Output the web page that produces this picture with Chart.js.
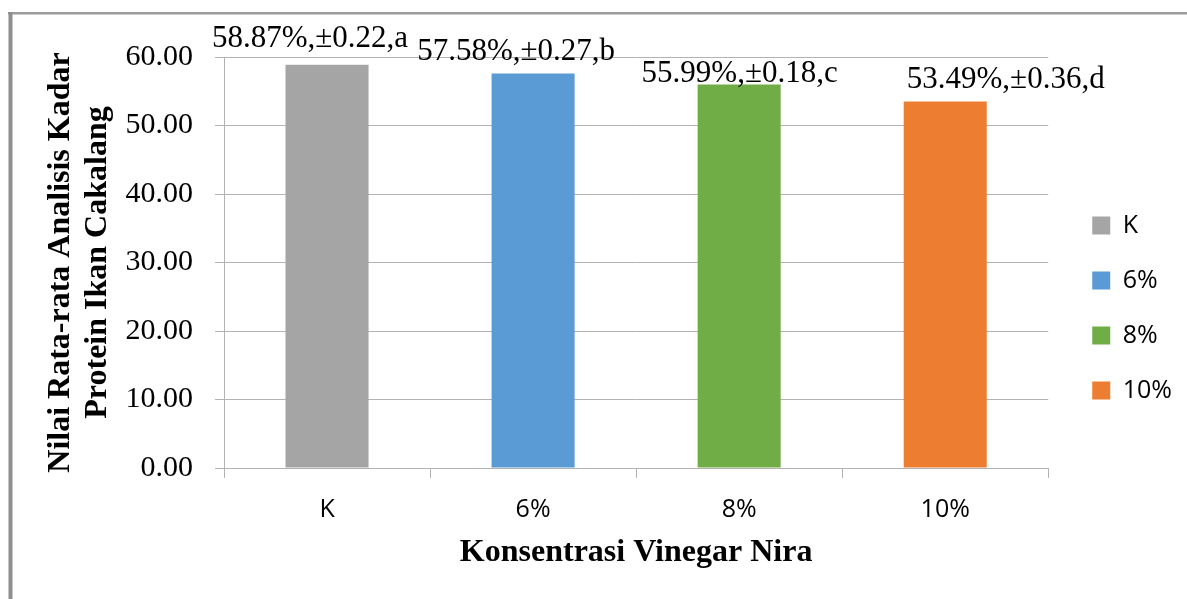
<!DOCTYPE html>
<html><head><meta charset="utf-8">
<script src="https://cdn.jsdelivr.net/npm/chart.js@4.4.1/dist/chart.umd.min.js"></script>
<style>html,body{margin:0;padding:0;background:#fff;} canvas{display:block;}</style>
</head><body>
<canvas id="c" width="1187" height="599"></canvas>
<script>
// ---- data ----
const categories = ['K', '6%', '8%', '10%'];
const means = [58.87, 57.58, 55.99, 53.49];
const sds = [0.22, 0.27, 0.18, 0.36];
const letters = ['a', 'b', 'c', 'd'];
const yTickValues = [0, 10, 20, 30, 40, 50, 60];
const barColors = ['#a5a5a5', '#5b9bd5', '#70ad47', '#ed7d31'];
const yTitle = ['Nilai Rata-rata Analisis Kadar', 'Protein Ikan Cakalang'];
const xTitle = 'Konsentrasi Vinegar Nira';

const labelTexts = means.map((m, i) => m.toFixed(2) + '%,\u00b1' + sds[i].toFixed(2) + ',' + letters[i]);

const SERIF = '"Liberation Serif", "Times New Roman", serif';
const SANS = '"Open Sans", "Noto Sans", sans-serif';
const GRID = '#b3b3b3';

const framePlugin = {
  id: 'frame',
  beforeDraw(chart) {
    const ctx = chart.ctx;
    ctx.save();
    ctx.fillStyle = '#fff';
    ctx.fillRect(0, 0, chart.width, chart.height);
    ctx.fillStyle = '#9c9c9c';
    ctx.fillRect(8, 12, chart.width - 8, 2.5);
    ctx.fillStyle = '#8e8e8e';
    ctx.fillRect(8.5, 12, 4, chart.height - 12);
    ctx.restore();
  }
};

const legendShift = {
  id: 'legendShift',
  afterLayout(chart, args, opts) {
    const lg = chart.legend;
    if (!lg) return;
    lg.left += opts.dx; lg.right += opts.dx;
    lg.top += opts.dy; lg.bottom += opts.dy;
  }
};

const barLabels = {
  id: 'barLabels',
  afterDatasetsDraw(chart, args, opts) {
    const ctx = chart.ctx;
    const meta = chart.getDatasetMeta(0);
    ctx.save();
    ctx.font = '31px ' + SERIF;
    ctx.fillStyle = '#000';
    ctx.textAlign = 'center';
    ctx.textBaseline = 'alphabetic';
    meta.data.forEach((bar, i) => {
      const off = opts.offsets[i];
      ctx.fillText(opts.texts[i], bar.x + off[0], bar.y + off[1]);
    });
    ctx.restore();
  }
};

new Chart(document.getElementById('c'), {
  type: 'bar',
  data: {
    labels: categories,
    datasets: [{
      data: means,
      backgroundColor: barColors,
      borderWidth: 0,
      categoryPercentage: 1,
      barPercentage: 0.403
    }]
  },
  options: {
    responsive: false,
    animation: false,
    layout: { padding: { top: 57, right: 19, bottom: 40, left: 0 } },
    plugins: {
      tooltip: { enabled: false },
      legend: {
        position: 'right',
        labels: {
          boxWidth: 18,
          boxHeight: 18,
          padding: 30,
          color: '#000',
          font: { family: SANS, size: 25 },
          generateLabels(chart) {
            return chart.data.labels.map((l, i) => ({
              text: l,
              fillStyle: barColors[i],
              strokeStyle: barColors[i],
              lineWidth: 0,
              hidden: false,
              index: i,
              fontColor: '#000'
            }));
          }
        }
      },
      legendShift: { dx: 14, dy: 0 },
      barLabels: {
        texts: labelTexts,
        offsets: [[-17, -17.7], [-17, -14], [0.5, -2.5], [60.5, -13.6]]
      }
    },
    scales: {
      x: {
        afterFit(scale) { scale.height = 91; },
        grid: {
          offset: true,
          drawOnChartArea: false,
          drawTicks: true,
          tickLength: 10,
          color: GRID,
          lineWidth: 1
        },
        border: { display: true, color: GRID, width: 1 },
        ticks: {
          color: '#000',
          padding: 17,
          font: { family: SANS, size: 25 },
          maxRotation: 0
        },
        title: {
          display: true,
          text: xTitle,
          color: '#000',
          font: { family: SERIF, size: 32, weight: 'bold', lineHeight: '12px' },
          padding: 0
        }
      },
      y: {
        min: 0,
        max: 60,
        afterFit(scale) { scale.width = 224; },
        afterBuildTicks(scale) { scale.ticks = yTickValues.map(v => ({ value: v })); },
        grid: {
          color: GRID,
          lineWidth: 1,
          drawTicks: true,
          tickLength: 9
        },
        border: { display: true, color: GRID, width: 1 },
        ticks: {
          color: '#000',
          padding: 22,
          font: { family: SERIF, size: 30 },
          callback: v => Number(v).toFixed(2)
        },
        title: {
          display: true,
          text: yTitle,
          color: '#000',
          font: { family: SERIF, size: 32, weight: 'bold', lineHeight: '37px' },
          padding: { top: 42.5, bottom: 0 }
        }
      }
    }
  },
  plugins: [framePlugin, legendShift, barLabels]
});
</script>
</body></html>
